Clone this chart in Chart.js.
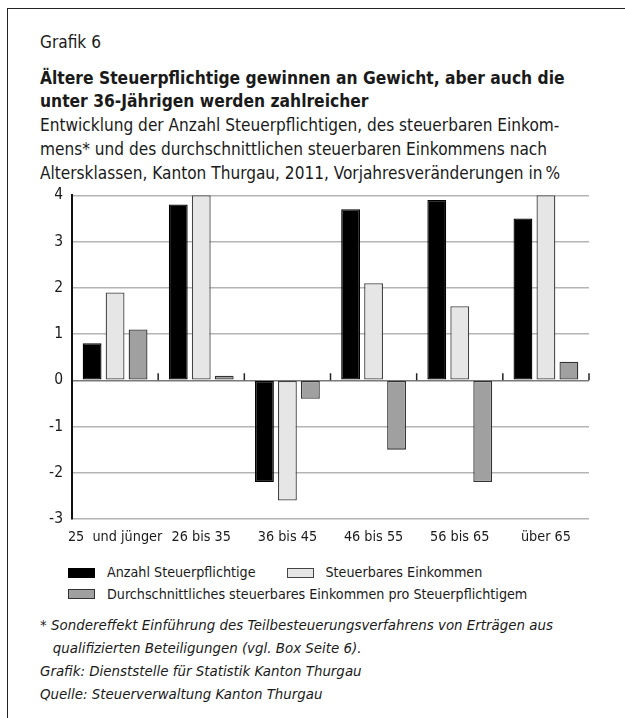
<!DOCTYPE html>
<html>
<head>
<meta charset="utf-8">
<script src="https://cdn.jsdelivr.net/npm/chart.js@4/dist/chart.umd.min.js"></script>
<style>
  body { margin: 0; background: #fff; width: 625px; height: 718px; overflow: hidden;
         font-family: "DejaVu Sans Condensed", "DejaVu Sans", sans-serif; color: #1a1a1a; }
  #frame { position: absolute; left: 7px; top: 8px; width: 640px; height: 720px;
           border-top: 1.5px solid #222; border-left: 1.5px solid #222; }
  .ln { position: absolute; left: 40px; white-space: nowrap; font-size: 17.1px; line-height: 24px; }
  .ln.b { font-weight: bold; font-size: 17.3px; }
  .nt { position: absolute; left: 40px; white-space: nowrap; font-size: 14.9px; line-height: 23px; font-style: italic; }
  #chartBox { position: absolute; left: 0; top: 177px; width: 625px; height: 372px; }
  #legend { position: absolute; left: 68px; top: 562px; font-size: 14.2px; line-height: 21px; }
  .lg { display: inline-flex; align-items: center; margin-right: 31px; white-space: nowrap; }
  .sw { display: inline-block; width: 27px; height: 10px; margin-right: 12px; box-sizing: border-box; }
</style>
</head>
<body>
<div id="frame"></div>
<div class="ln" style="top:30px">Grafik 6</div>
<div class="ln b" style="top:66px">Ältere Steuerpflichtige gewinnen an Gewicht, aber auch die</div>
<div class="ln b" style="top:89px">unter 36-Jährigen werden zahlreicher</div>
<div class="ln" style="top:113px">Entwicklung der Anzahl Steuerpflichtigen, des steuerbaren Einkom-</div>
<div class="ln" style="top:137px">mens* und des durchschnittlichen steuerbaren Einkommens nach</div>
<div class="ln" style="top:161px">Altersklassen, Kanton Thurgau, 2011, Vorjahresveränderungen in&#8201;%</div>
<div id="chartBox"><canvas id="myChartBar"></canvas></div>
<div id="legend"></div>
<div class="nt" style="top:614px">* Sondereffekt Einführung des Teilbesteuerungsverfahrens von Erträgen aus</div>
<div class="nt" style="top:637px">&nbsp;&nbsp;&nbsp;qualifizierten Beteiligungen (vgl. Box Seite 6).</div>
<div class="nt" style="top:660px">Grafik: Dienststelle für Statistik Kanton Thurgau</div>
<div class="nt" style="top:683px">Quelle: Steuerverwaltung Kanton Thurgau</div>
<script>
// age classes
var ageClasses = ["25  und jünger", "26 bis 35", "36 bis 45", "46 bis 55", "56 bis 65", "über 65"];
// changes vs previous year in %
var anzahlValues = [0.8, 3.8, -2.2, 3.7, 3.9, 3.5];
var einkommenValues = [1.9, 4.0, -2.6, 2.1, 1.6, 4.0];
var durchschnittValues = [1.1, 0.1, -0.4, -1.5, -2.2, 0.4];
var seriesNames = [
    "Anzahl Steuerpflichtige",
    "Steuerbares Einkommen",
    "Durchschnittliches steuerbares Einkommen pro Steuerpflichtigem",
];
var yTicks = [-3, -2, -1, 0, 1, 2, 3, 4];

var fillColors = ["#000000", "#e6e6e6", "#a0a0a0"];
var lineColors = ["#000000", "#444444", "#333333"];
var fontFamily = '"DejaVu Sans Condensed", "DejaVu Sans", sans-serif';

// small ticks on the zero line between the age classes
var zeroTicks = {
    id: "zeroTicks",
    afterDatasetsDraw(chart) {
        var x = chart.scales.x, y = chart.scales.y, ctx = chart.ctx;
        var y0 = y.getPixelForValue(0);
        var half = (x.getPixelForValue(1) - x.getPixelForValue(0)) / 2;
        ctx.save();
        ctx.strokeStyle = "#222";
        ctx.lineWidth = 1.5;
        for (let i = 0; i < ageClasses.length; i++) {
            var px = x.getPixelForValue(i) + half;
            ctx.beginPath();
            ctx.moveTo(px, y0);
            ctx.lineTo(px, y0 - 7);
            ctx.stroke();
        }
        ctx.restore();
    },
};

function buildLegend() {
    var el = document.getElementById("legend");
    var html = "";
    for (let i = 0; i < seriesNames.length; i++) {
        if (i == 2) html += "<br>";
        html += '<span class="lg"><span class="sw" style="background:' + fillColors[i] +
            ";border:1.5px solid " + lineColors[i] + '"></span>' + seriesNames[i] + "</span>";
    }
    el.innerHTML = html;
}

var datasets = [anzahlValues, einkommenValues, durchschnittValues].map(function (vals, i) {
    return {
        label: seriesNames[i],
        data: vals,
        backgroundColor: fillColors[i],
        borderColor: lineColors[i],
        borderWidth: 1.3,
        borderSkipped: false,
        categoryPercentage: 0.8,
        barPercentage: 0.82,
    };
});

var ctx = document.getElementById("myChartBar");
var myBarChart = new Chart(ctx, {
    type: "bar",
    data: { labels: ageClasses, datasets: datasets },
    plugins: [zeroTicks],
    options: {
        responsive: true,
        maintainAspectRatio: false,
        animation: false,
        layout: { padding: { top: 10, right: 36, bottom: 0, left: 0 } },
        plugins: { legend: { display: false }, tooltip: { enabled: false } },
        scales: {
            x: {
                grid: { display: false, drawTicks: false },
                border: { display: false },
                ticks: {
                    color: "#1a1a1a",
                    font: { family: fontFamily, size: 14.3 },
                    padding: 10,
                    maxRotation: 0,
                    autoSkip: false,
                },
                afterFit(scale) { scale.height = 30; },
            },
            y: {
                min: -3,
                max: 4,
                afterBuildTicks(scale) { scale.ticks = yTicks.map((v) => ({ value: v })); },
                grid: {
                    drawTicks: false,
                    color: (c) => (c.tick && c.tick.value == 0 ? "#7a7a7a" : "#b4b4b4"),
                    lineWidth: 1.5,
                },
                border: { color: "#111", width: 2 },
                ticks: {
                    color: "#1a1a1a",
                    font: { family: fontFamily, size: 15.5 },
                    padding: 9,
                },
                afterFit(scale) { scale.width = 72; },
            },
        },
    },
});
buildLegend();
</script>
</body>
</html>
